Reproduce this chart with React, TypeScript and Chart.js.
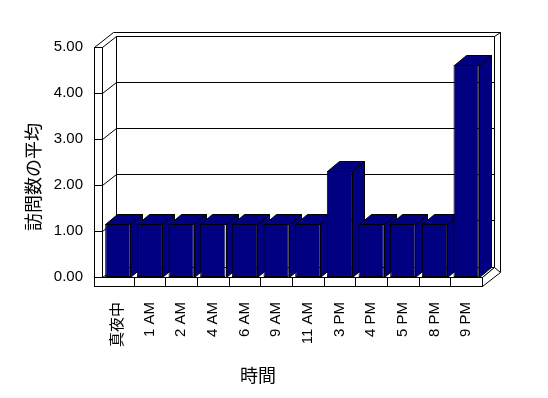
import React, { useEffect, useRef } from "react";
import { Chart, registerables } from "chart.js";

Chart.register(...registerables);

const categories = ["真夜中", "1 AM", "2 AM", "4 AM", "6 AM", "9 AM", "11 AM", "3 PM", "4 PM", "5 PM", "8 PM", "9 PM"];
const averageVisits = [1.154, 1.154, 1.154, 1.154, 1.154, 1.154, 1.154, 2.308, 1.154, 1.154, 1.154, 4.615];
const yTickValues = [0, 1, 2, 3, 4, 5];
const yTitle = "訪問数の平均";
const xTitle = "時間";

const FONT = '"Liberation Sans", "Noto Sans CJK JP", sans-serif';
const BAR_COLOR = "#000080";

const WALL_DX = 14;
const WALL_DY = -11;
const BAR_DX = 12;
const BAR_DY = -10;
const WALL_W = 8;
const FLOOR_H = 9;

const threeD = {
  id: "threeD",
  beforeDatasetsDraw(chart: any) {
    const { ctx, chartArea: a, scales } = chart;
    const ys = scales.y;
    const L = a.left;
    const R = a.right;
    const T = ys.getPixelForValue(yTickValues[yTickValues.length - 1]);
    const B = ys.getPixelForValue(0);
    const bl = L + WALL_DX;
    const br = R + 12;
    const bt = T + WALL_DY;
    const bb = B - 10;
    const p = (v: number) => Math.round(v) + 0.5;
    ctx.save();
    ctx.lineWidth = 1;
    ctx.strokeStyle = "#000";
    const line = (x1: number, y1: number, x2: number, y2: number) => {
      ctx.beginPath();
      ctx.moveTo(p(x1), p(y1));
      ctx.lineTo(p(x2), p(y2));
      ctx.stroke();
    };
    const poly = (pts: number[][], fill: string) => {
      ctx.beginPath();
      pts.forEach((q, i) => (i === 0 ? ctx.moveTo(p(q[0]), p(q[1])) : ctx.lineTo(p(q[0]), p(q[1]))));
      ctx.closePath();
      ctx.fillStyle = fill;
      ctx.fill();
      ctx.stroke();
    };
    // back wall
    ctx.strokeRect(p(bl), p(bt), Math.round(br - bl), Math.round(bb - bt));
    line(L - WALL_W + 19, bt - 4, br + 6, bt - 4);
    line(br + 6, bt - 4, br + 6, bb + 5);
    line(br, bt, br + 6, bt - 4);
    // left wall
    ctx.strokeRect(p(L - WALL_W), p(T), WALL_W, Math.round(B - T));
    line(L - WALL_W, T, L - WALL_W + 19, bt - 4);
    line(L, T, bl, bt);
    // gridlines
    yTickValues.forEach((v) => {
      if (v === 0 || v === yTickValues[yTickValues.length - 1]) return;
      const fy = ys.getPixelForValue(v);
      line(L - WALL_W, fy, L, fy);
      line(L, fy, bl, fy + WALL_DY);
      line(bl, fy + WALL_DY, br, fy + WALL_DY);
    });
    // floor
    poly([[L, B], [R, B], [br, bb], [bl, bb]], "#fff");
    poly([[R, B], [br, bb], [br + 6, bb + 5], [R, B + FLOOR_H]], "#fff");
    ctx.fillStyle = "#fff";
    ctx.fillRect(p(L - WALL_W), p(B), Math.round(R - L + WALL_W), FLOOR_H);
    ctx.strokeRect(p(L - WALL_W), p(B), Math.round(R - L + WALL_W), FLOOR_H);
    const n = categories.length;
    const cw = (R - L) / n;
    for (let k = 1; k < n; k++) {
      line(L + cw * k, B, L + cw * k, B + FLOOR_H);
    }
    // bar sides and tops
    const meta = chart.getDatasetMeta(0);
    meta.data.forEach((el: any) => {
      const { x, y, base, width } = el.getProps(["x", "y", "base", "width"], true);
      const x0 = x - width / 2;
      const x1 = x + width / 2;
      poly([[x1, y], [x1 + BAR_DX, y + BAR_DY], [x1 + BAR_DX, base + BAR_DY], [x1, base]], BAR_COLOR);
      poly([[x0, y], [x1, y], [x1 + BAR_DX, y + BAR_DY], [x0 + BAR_DX, y + BAR_DY]], BAR_COLOR);
    });
    ctx.restore();
  },
  afterDraw(chart: any) {
    const { ctx } = chart;
    ctx.save();
    ctx.fillStyle = "#000";
    ctx.font = `18px ${FONT}`;
    ctx.textAlign = "center";
    ctx.textBaseline = "middle";
    ctx.fillText(xTitle, 258, 377);
    ctx.translate(35, 177);
    ctx.rotate(-Math.PI / 2);
    ctx.fillText(yTitle, 0, 0);
    ctx.restore();
  },
};

export default function App() {
  const ref = useRef<HTMLCanvasElement | null>(null);
  useEffect(() => {
    if (!ref.current) return;
    const chart = new Chart(ref.current, {
      type: "bar",
      data: {
        labels: categories,
        datasets: [
          {
            data: averageVisits,
            backgroundColor: BAR_COLOR,
            borderColor: "#000",
            borderWidth: 1,
            borderSkipped: false,
            categoryPercentage: 1,
            barPercentage: 0.8,
          },
        ],
      },
      options: {
        animation: false,
        responsive: false,
        layout: { padding: { left: 0, top: 47, right: 66, bottom: 0 } },
        plugins: { legend: { display: false }, tooltip: { enabled: false }, title: { display: false } },
        scales: {
          x: {
            grid: { display: false, drawTicks: false },
            border: { display: false },
            ticks: {
              autoSkip: false,
              maxRotation: 90,
              minRotation: 90,
              padding: 25,
              color: "#000",
              font: { family: FONT, size: 15 },
            },
            afterFit(s: any) {
              s.height = 121;
            },
          },
          y: {
            min: 0,
            max: 5,
            grid: { display: false, drawTicks: false },
            border: { display: false },
            ticks: {
              stepSize: 1,
              padding: 19,
              color: "#000",
              font: { family: FONT, size: 15 },
              callback: (v: any) => Number(v).toFixed(2),
            },
            afterFit(s: any) {
              s.width = 102;
            },
          },
        },
      },
      plugins: [threeD],
    });
    return () => chart.destroy();
  }, []);
  return (
    <canvas
      ref={ref}
      width={548}
      height={398}
      style={{ position: "absolute", left: 0, top: 0, display: "block" }}
    />
  );
}
